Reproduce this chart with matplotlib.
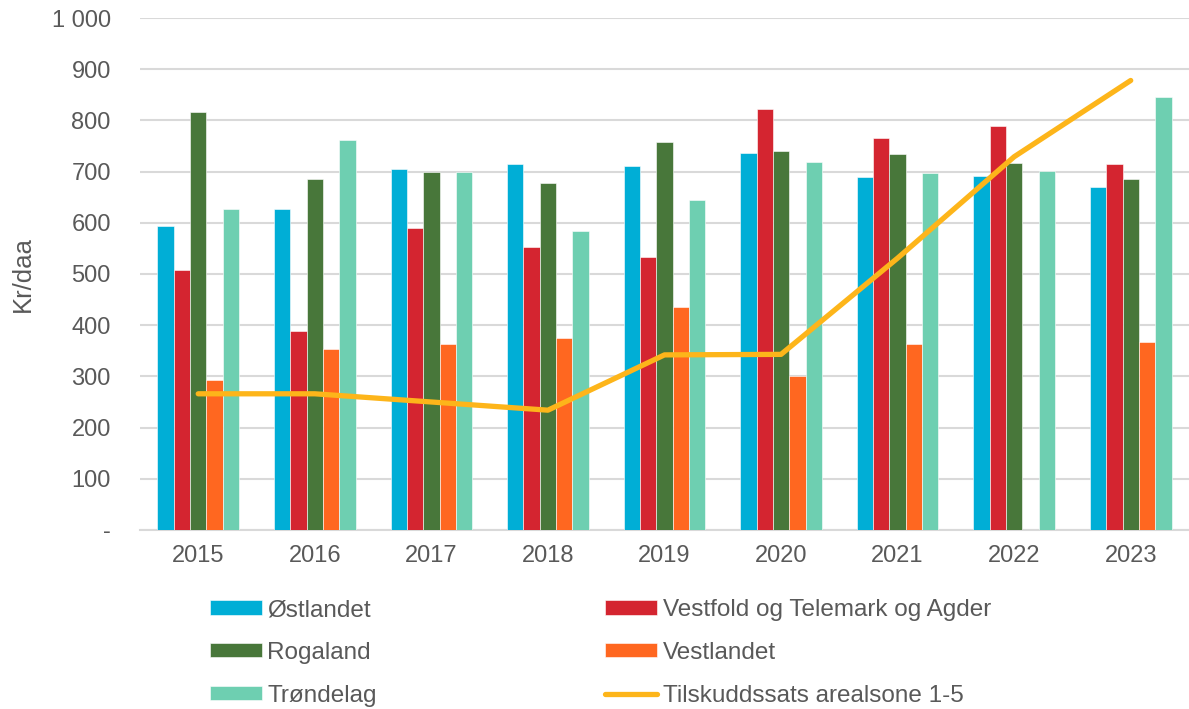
import numpy as np
import matplotlib
matplotlib.use("Agg")
import matplotlib.pyplot as plt
from matplotlib.ticker import FuncFormatter

plt.rcParams['font.family'] = ['Liberation Sans', 'DejaVu Sans']

years = ['2015', '2016', '2017', '2018', '2019', '2020', '2021', '2022', '2023']

# kr/daa per region (lest av figuren)
ostlandet = [594, 626, 705, 715, 711, 737, 689, 691, 669]
vestfold_agder = [508, 388, 590, 552, 534, 823, 766, 790, 714]
rogaland = [816, 685, 700, 678, 757, 740, 734, 717, 685]
vestlandet = [293, 353, 363, 375, 436, 301, 363, 0, 368]
trondelag = [626, 761, 700, 584, 645, 719, 697, 702, 846]
tilskuddssats = [266, 266, 250, 234, 342, 343, 531, 729, 878]

series = [
    ('Østlandet', ostlandet, '#00AED6'),
    ('Vestfold og Telemark og Agder', vestfold_agder, '#D42530'),
    ('Rogaland', rogaland, '#48773A'),
    ('Vestlandet', vestlandet, '#FF6720'),
    ('Trøndelag', trondelag, '#6ECFB1'),
]

txt = '#595959'
fs = 17
fs_leg = 17.5

fig = plt.figure(figsize=(11.89, 7.09), dpi=100)
ax = fig.add_axes([0.1177, 0.2525, 0.8823, 0.7221])

x = np.arange(len(years))
w = 0.14
bars = {}
for i, (name, vals, col) in enumerate(series):
    bars[name] = ax.bar(x + (i - 2) * w, vals, w, color=col, label=name,
                        edgecolor='white', linewidth=0.4, zorder=3)

line, = ax.plot(x, tilskuddssats, color='#FDB51A', lw=3.8,
                solid_capstyle='round', label='Tilskuddssats arealsone 1-5', zorder=4)

ax.set_xlim(-0.5, len(years) - 0.5)
ax.set_ylim(0, 1000)
ax.set_yticks(range(0, 1001, 100))


def fmt(v, pos):
    if v == 0:
        return '-'
    return f'{int(v):,}'.replace(',', ' ')


ax.yaxis.set_major_formatter(FuncFormatter(fmt))
ax.set_xticks(x)
ax.set_xticklabels(years)
ax.tick_params(axis='both', length=0, labelsize=fs, labelcolor=txt)
ax.tick_params(axis='y', pad=21)
ax.tick_params(axis='x', pad=11)
ax.grid(axis='y', color='#D9D9D9', lw=1.5, zorder=0)
for s in ['top', 'right', 'left']:
    ax.spines[s].set_visible(False)
ax.spines['bottom'].set_color('#D9D9D9')
ax.spines['bottom'].set_linewidth(1.5)
ax.set_ylabel('Kr/daa', fontsize=18.5, color=txt, labelpad=12)

handles = [bars['Østlandet'], bars['Rogaland'], bars['Trøndelag'],
           bars['Vestfold og Telemark og Agder'], bars['Vestlandet'], line]
labels = [h.get_label() for h in handles]
fig.legend(handles, labels, ncol=2, loc='upper left',
           bbox_to_anchor=(0.1766, 0.155), frameon=False, fontsize=fs_leg,
           labelcolor=txt, handlelength=2.14, handleheight=0.52,
           handletextpad=0.22, columnspacing=9.4, labelspacing=0.86,
           borderpad=0, borderaxespad=0)

fig.savefig('out.png', dpi=100)
